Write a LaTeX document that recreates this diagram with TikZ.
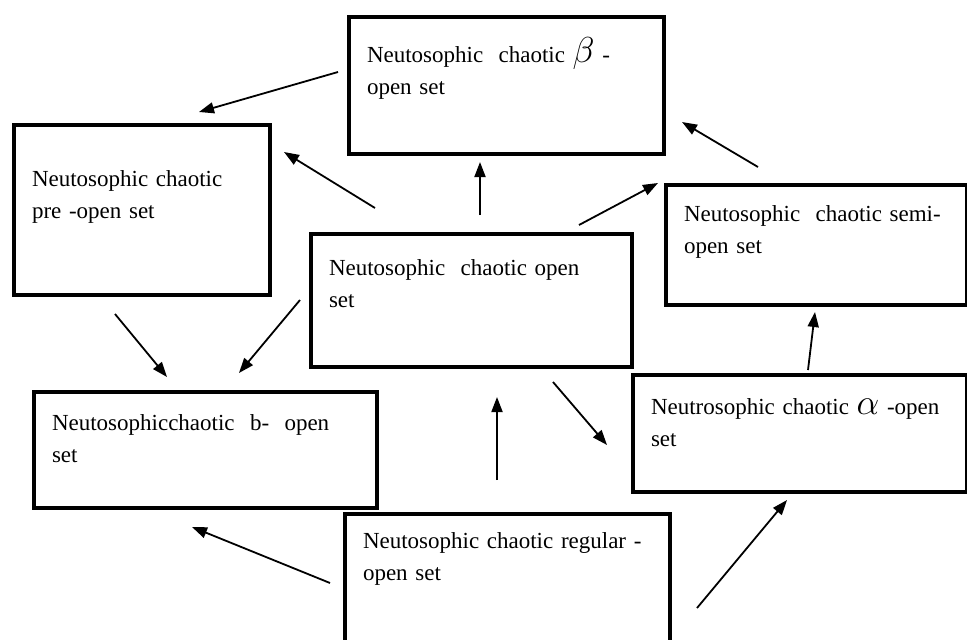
\documentclass[tikz,border=0pt]{standalone}
\usepackage{fontspec}
\usepackage{graphicx}
\setmainfont{Liberation Serif}
\usetikzlibrary{arrows.meta}
\newcommand{\bigsym}[1]{\scalebox{1.45}{$#1$}}
\tikzset{
->, % every connector is directed
>={Triangle[length=15pt,width=11pt]}, % filled triangular heads
setbox/.style={draw, line width=4pt, anchor=north west, inner xsep=18pt, inner ysep=0pt,
  align=left, font=\fontsize{23}{32}\selectfont}, % the boxes; each gives its own size
}

\begin{document}
\begin{tikzpicture}[x=1pt, y=-1pt, line width=1.8pt]
    \useasboundingbox (0,0) rectangle (967,640);
    \clip (0,0) rectangle (967,640);
    \node[setbox, text width=279pt, text height=45pt, text depth=92pt] (beta) at (347,15) {Neutosophic\ \ chaotic \bigsym{\beta} -\\open set};
    \node[setbox, text width=220pt, text height=61pt, text depth=109pt] (pre) at (12,123) {Neutosophic chaotic\\pre -open set};
    \node[setbox, text width=285pt, text height=41pt, text depth=92pt] (open) at (309,232) {Neutosophic\ \ chaotic open\\set};
    \node[setbox, text width=265pt, text height=36pt, text depth=84pt] (semi) at (664,183) {Neutosophic\ \ chaotic semi-\\open set};
    \node[setbox, text width=307pt, text height=38pt, text depth=78pt] (bopen) at (32,390) {Neutosophicchaotic\ \ b-\ \ open\\set};
    \node[setbox, text width=298pt, text height=39pt, text depth=78pt] (alpha) at (631,373) {Neutrosophic chaotic \bigsym{\alpha} -open\\set};
    \node[setbox, text width=289pt, text height=34pt, text depth=130pt] (reg) at (343,512) {Neutosophic chaotic regular -\\open set};
    \draw ([shift={(-9,57)}]beta.north west) -- ([shift={(-73,-11)}]pre.north east);
    \draw ([shift={(66,-24)}]open.north west) -- ([shift={(12,29)}]pre.north east);
    \draw ([shift={(171,-17)}]open.north west) -- ([shift={(133,6)}]beta.south west);
    \draw ([shift={(-55,-7)}]open.north east) -- ([shift={(-6,0)}]semi.north west);
    \draw ([shift={(94,-16)}]semi.north west) -- ([shift={(16,-34)}]beta.south east);
    \draw ([shift={(-9,68)}]open.north west) -- ([shift={(-140,-17)}]bopen.north east);
    \draw ([shift={(103,17)}]pre.south west) -- ([shift={(135,-13)}]bopen.north west);
    \draw ([shift={(154,-32)}]reg.north west) -- ([shift={(188,28)}]open.south west);
    \draw ([shift={(244,13)}]open.south west) -- ([shift={(-24,72)}]alpha.north west);
    \draw ([shift={(177,-3)}]alpha.north west) -- ([shift={(151,5)}]semi.south west);
    \draw ([shift={(-13,71)}]reg.north west) -- ([shift={(160,17)}]bopen.south west);
    \draw ([shift={(25,96)}]reg.north east) -- ([shift={(156,127)}]alpha.north west);
\end{tikzpicture}
\end{document}
